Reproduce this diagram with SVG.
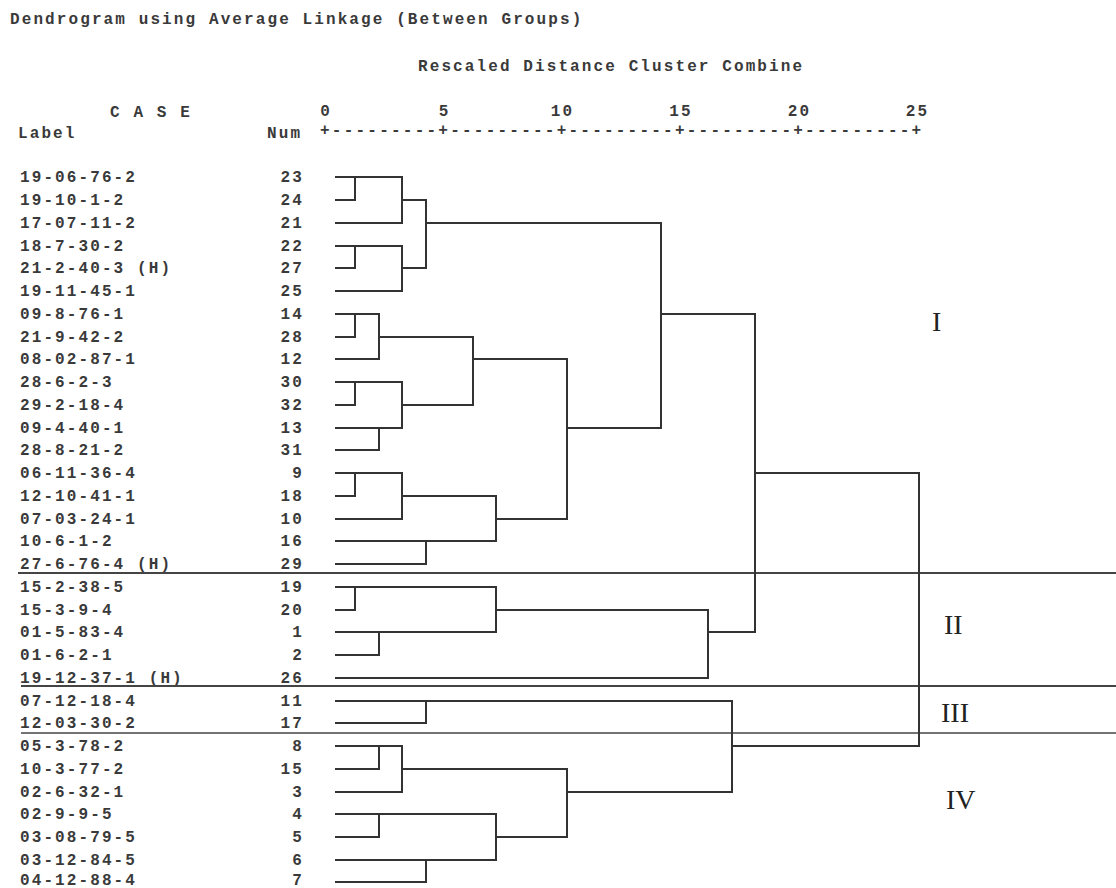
<svg xmlns="http://www.w3.org/2000/svg" width="1116" height="888" viewBox="0 0 1116 888">
<style>
.t{font-family:"Liberation Mono","DejaVu Sans Mono",monospace;font-size:16px;font-weight:bold;letter-spacing:2.1px;fill:#3a3a3a}
.n{text-anchor:end}
.c{text-anchor:middle}
.ax{letter-spacing:2.23px}
.r{font-family:"Liberation Serif","Times New Roman",serif;font-size:28px;fill:#222}
.ln{fill:none;stroke:#333;stroke-width:2;stroke-linecap:square}
.sep{stroke:#444;fill:none}
</style>
<rect width="1116" height="888" fill="#fff"/>
<g id="header">
<text class="t" x="10" y="23.5">Dendrogram using Average Linkage (Between Groups)</text>
<text class="t" x="418" y="71">Rescaled Distance Cluster Combine</text>
<text class="t" x="110" y="117">C A S E</text>
<text class="t" x="18" y="138">Label</text>
<text class="t" x="267" y="138">Num</text>
<text class="t c" x="326" y="116">0</text>
<text class="t c" x="444.5" y="116">5</text>
<text class="t c" x="562.5" y="116">10</text>
<text class="t c" x="681" y="116">15</text>
<text class="t c" x="799.5" y="116">20</text>
<text class="t c" x="917.5" y="116">25</text>
<text class="t ax" x="320" y="135">+---------+---------+---------+---------+---------+</text>
</g>
<g id="leaves">
<g id="leaf-23"><text class="t" x="20" y="182">19-06-76-2</text><text class="t n" x="304" y="182">23</text></g>
<g id="leaf-24"><text class="t" x="20" y="205">19-10-1-2</text><text class="t n" x="304" y="205">24</text></g>
<g id="leaf-21"><text class="t" x="20" y="228">17-07-11-2</text><text class="t n" x="304" y="228">21</text></g>
<g id="leaf-22"><text class="t" x="20" y="251">18-7-30-2</text><text class="t n" x="304" y="251">22</text></g>
<g id="leaf-27"><text class="t" x="20" y="273">21-2-40-3 (H)</text><text class="t n" x="304" y="273">27</text></g>
<g id="leaf-25"><text class="t" x="20" y="296">19-11-45-1</text><text class="t n" x="304" y="296">25</text></g>
<g id="leaf-14"><text class="t" x="20" y="319">09-8-76-1</text><text class="t n" x="304" y="319">14</text></g>
<g id="leaf-28"><text class="t" x="20" y="342">21-9-42-2</text><text class="t n" x="304" y="342">28</text></g>
<g id="leaf-12"><text class="t" x="20" y="364">08-02-87-1</text><text class="t n" x="304" y="364">12</text></g>
<g id="leaf-30"><text class="t" x="20" y="387">28-6-2-3</text><text class="t n" x="304" y="387">30</text></g>
<g id="leaf-32"><text class="t" x="20" y="410">29-2-18-4</text><text class="t n" x="304" y="410">32</text></g>
<g id="leaf-13"><text class="t" x="20" y="433">09-4-40-1</text><text class="t n" x="304" y="433">13</text></g>
<g id="leaf-31"><text class="t" x="20" y="455">28-8-21-2</text><text class="t n" x="304" y="455">31</text></g>
<g id="leaf-9"><text class="t" x="20" y="478">06-11-36-4</text><text class="t n" x="304" y="478">9</text></g>
<g id="leaf-18"><text class="t" x="20" y="501">12-10-41-1</text><text class="t n" x="304" y="501">18</text></g>
<g id="leaf-10"><text class="t" x="20" y="524">07-03-24-1</text><text class="t n" x="304" y="524">10</text></g>
<g id="leaf-16"><text class="t" x="20" y="546">10-6-1-2</text><text class="t n" x="304" y="546">16</text></g>
<g id="leaf-29"><text class="t" x="20" y="569">27-6-76-4 (H)</text><text class="t n" x="304" y="569">29</text></g>
<g id="leaf-19"><text class="t" x="20" y="592">15-2-38-5</text><text class="t n" x="304" y="592">19</text></g>
<g id="leaf-20"><text class="t" x="20" y="615">15-3-9-4</text><text class="t n" x="304" y="615">20</text></g>
<g id="leaf-1"><text class="t" x="20" y="637">01-5-83-4</text><text class="t n" x="304" y="637">1</text></g>
<g id="leaf-2"><text class="t" x="20" y="660">01-6-2-1</text><text class="t n" x="304" y="660">2</text></g>
<g id="leaf-26"><text class="t" x="20" y="683">19-12-37-1 (H)</text><text class="t n" x="304" y="683">26</text></g>
<g id="leaf-11"><text class="t" x="20" y="706">07-12-18-4</text><text class="t n" x="304" y="706">11</text></g>
<g id="leaf-17"><text class="t" x="20" y="728">12-03-30-2</text><text class="t n" x="304" y="728">17</text></g>
<g id="leaf-8"><text class="t" x="20" y="751">05-3-78-2</text><text class="t n" x="304" y="751">8</text></g>
<g id="leaf-15"><text class="t" x="20" y="774">10-3-77-2</text><text class="t n" x="304" y="774">15</text></g>
<g id="leaf-3"><text class="t" x="20" y="797">02-6-32-1</text><text class="t n" x="304" y="797">3</text></g>
<g id="leaf-4"><text class="t" x="20" y="819">02-9-9-5</text><text class="t n" x="304" y="819">4</text></g>
<g id="leaf-5"><text class="t" x="20" y="842">03-08-79-5</text><text class="t n" x="304" y="842">5</text></g>
<g id="leaf-6"><text class="t" x="20" y="865">03-12-84-5</text><text class="t n" x="304" y="865">6</text></g>
<g id="leaf-7"><text class="t" x="20" y="884.5">04-12-88-4</text><text class="t n" x="304" y="884.5">7</text></g>
</g>
<g id="separators">
<line class="sep" x1="18" y1="573" x2="1116" y2="573" stroke-width="2"/>
<line class="sep" x1="21" y1="686" x2="1116" y2="686" stroke-width="2"/>
<line class="sep" x1="21" y1="733" x2="1116" y2="733" stroke-width="1.5"/>
</g>
<g id="connectors">
<path class="ln" d="M336 177H402M336 200H355M336 223H402M336 246H402M336 268H355M336 291H402M336 314H379M336 337H355M336 359H379M336 382H402M336 405H355M336 428H402M336 450H379M336 473H402M336 496H355M336 519H402M336 541H496M336 564H426M336 587H496M336 610H355M336 632H496M336 655H379M336 678H708M336 701H732M336 723H426M336 746H402M336 769H379M336 792H402M336 814H496M336 837H379M336 860H496M336 882H426"/>
<path class="ln" d="M355 177V200M355 246V268M355 314V337M355 382V405M355 473V496M355 587V610M379 314V359M379 428V450M379 632V655M379 746V769M379 814V837M402 177V223M402 246V291M402 382V428M402 473V519M402 746V792M426 200V268M426 541V564M426 701V723M426 860V882M473 337V405M496 496V541M496 587V632M496 814V860M567 359V519M567 769V837M661 223V428M708 610V678M732 701V792M755 314V632M919 473V746"/>
<path class="ln" d="M402 200H426M402 268H426M426 223H661M379 337H473M402 405H473M473 359H567M402 496H496M496 519H567M567 428H661M661 314H755M496 610H708M708 632H755M755 473H919M402 769H567M496 837H567M567 792H732M732 746H919"/>
</g>
<g id="clusters">
<text class="r" x="932" y="331">I</text>
<text class="r" x="944" y="634">II</text>
<text class="r" x="941" y="722">III</text>
<text class="r" x="946" y="809">IV</text>
</g>
</svg>
